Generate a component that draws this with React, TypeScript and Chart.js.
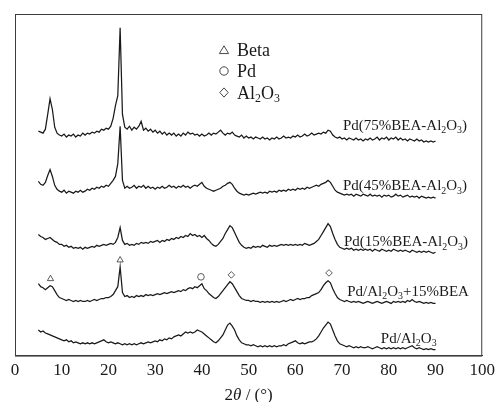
import React, { useEffect, useRef } from 'react';
import { Chart, registerables } from 'chart.js';

Chart.register(...registerables);

// 2θ values (degrees)
const angles = [
  5, 5.5, 6, 6.5, 7, 7.5, 8, 8.5, 9, 9.5,
  10, 10.5, 11, 11.5, 12, 12.5, 13, 13.5, 14, 14.5,
  15, 15.5, 16, 16.5, 17, 17.5, 18, 18.5, 19, 19.5,
  20, 20.5, 21, 21.5, 22, 22.5, 23, 23.5, 24, 24.5,
  25, 25.5, 26, 26.5, 27, 27.5, 28, 28.5, 29, 29.5,
  30, 30.5, 31, 31.5, 32, 32.5, 33, 33.5, 34, 34.5,
  35, 35.5, 36, 36.5, 37, 37.5, 38, 38.5, 39, 39.5,
  40, 40.5, 41, 41.5, 42, 42.5, 43, 43.5, 44, 44.5,
  45, 45.5, 46, 46.5, 47, 47.5, 48, 48.5, 49, 49.5,
  50, 50.5, 51, 51.5, 52, 52.5, 53, 53.5, 54, 54.5,
  55, 55.5, 56, 56.5, 57, 57.5, 58, 58.5, 59, 59.5,
  60, 60.5, 61, 61.5, 62, 62.5, 63, 63.5, 64, 64.5,
  65, 65.5, 66, 66.5, 67, 67.5, 68, 68.5, 69, 69.5,
  70, 70.5, 71, 71.5, 72, 72.5, 73, 73.5, 74, 74.5,
  75, 75.5, 76, 76.5, 77, 77.5, 78, 78.5, 79, 79.5,
  80, 80.5, 81, 81.5, 82, 82.5, 83, 83.5, 84, 84.5,
  85, 85.5, 86, 86.5, 87, 87.5, 88, 88.5, 89, 89.5,
  90,
];

// intensities (stacked, arbitrary units)
const pd75BEA = [
  228, 227, 226, 230, 245, 261, 250, 232, 226, 224,
  223, 225, 222, 224, 223, 225, 222, 224, 223, 226,
  224, 226, 225, 227, 226, 228, 227, 230, 229, 231,
  230, 233, 241, 254, 264, 333, 245, 232, 230, 233,
  229, 232, 230, 233, 238, 229, 231, 228, 230, 227,
  229, 226, 228, 225, 227, 224, 226, 224, 226, 223,
  225, 223, 226, 224, 227, 225, 226, 224, 225, 223,
  225, 223, 224, 226, 224, 226, 225, 227, 229, 226,
  224, 226, 225, 227, 224, 223, 222, 224, 221, 223,
  221, 222, 220, 222, 221, 220, 222, 220, 221, 219,
  221, 220, 222, 220, 221, 223, 221, 222, 221, 223,
  222, 224, 222, 223, 225, 223, 224, 226, 224, 225,
  226, 225, 227, 226, 229, 228, 224, 222, 221, 222,
  220, 221, 219, 221, 220, 219, 221, 219, 220, 218,
  220, 219, 221, 219, 220, 222, 219, 221, 220, 222,
  219, 221, 220, 222, 219, 221, 219, 220, 218, 220,
  219, 218, 220, 218, 219, 217, 218, 217, 218, 217,
  218,
];

const pd45BEA = [
  177, 174, 173, 176, 183, 189, 182, 173, 169, 167,
  166, 168, 165, 167, 166, 165, 167, 166, 168, 166,
  167, 169, 168, 170, 169, 171, 170, 172, 171, 173,
  172, 175, 178, 182, 195, 233, 178, 170, 172, 170,
  171, 173, 170, 172, 171, 173, 170, 172, 170, 171,
  169, 171, 170, 172, 170, 171, 173, 171, 172, 170,
  172, 171, 173, 171, 172, 170, 172, 173, 172, 174,
  176, 172, 170, 169, 168, 167, 168, 169, 170, 172,
  173, 175, 176, 174, 170, 167, 165, 164, 163, 164,
  163, 164, 165, 164, 165, 166, 165, 166, 165, 167,
  166, 167, 166, 168, 167, 168, 167, 169, 168, 169,
  168, 170, 169, 170, 169, 171, 170, 171, 172, 173,
  172, 174, 175, 176, 178, 176, 172, 168, 166, 165,
  164, 163, 164, 163, 164, 162, 164, 163, 162, 164,
  163, 162, 164, 162, 163, 162, 163, 161, 163, 162,
  163, 161, 162, 164, 162, 163, 161, 162, 163, 161,
  162, 161, 162, 160, 162, 161, 160, 161, 160, 161,
  160,
];

const pd15BEA = [
  123, 121, 120, 118, 119, 120, 118, 116, 115, 113,
  113, 111, 112, 110, 111, 109, 110, 109, 110, 108,
  110, 109, 110, 111, 110, 112, 111, 112, 113, 112,
  113, 114, 113, 115, 120, 130, 117, 113, 114, 112,
  113, 112, 114, 113, 115, 114, 115, 114, 116, 115,
  116, 117, 115, 117, 116, 118, 117, 119, 118, 120,
  119, 121, 120, 122, 121, 124, 122, 123, 121, 122,
  120, 122, 119, 117, 114, 112, 111, 113, 116, 119,
  124, 128, 132, 130, 125, 120, 115, 112, 110, 109,
  110, 109, 111, 110, 111, 110, 112, 111, 110, 112,
  111, 112, 111, 112, 113, 112, 113, 112, 113, 112,
  113, 112, 113, 112, 114, 113, 112, 113, 114, 116,
  118, 122, 126, 130, 134, 131, 124, 118, 113, 110,
  109, 108, 109, 108, 109, 107, 108, 107, 108, 107,
  108, 107, 108, 106, 108, 107, 106, 108, 107, 106,
  107, 106, 108, 107, 106, 107, 106, 107, 106, 105,
  107, 106, 105, 106, 105, 106, 105, 106, 105, 104,
  105,
];

const pdAlBEA = [
  73, 70, 69, 67, 69, 71, 70, 66, 62, 59,
  58, 57, 56, 57, 56, 55, 56, 55, 56, 55,
  55, 56, 55, 56, 57, 56, 57, 58, 58, 59,
  59, 60, 62, 66, 70, 90, 64, 60, 61, 59,
  60, 59, 61, 60, 61, 60, 62, 61, 62, 61,
  62, 63, 62, 63, 64, 63, 64, 65, 64, 65,
  66, 65, 67, 66, 68, 69, 68, 70, 69, 71,
  73, 68, 66, 63, 61, 59, 58, 60, 63, 66,
  69, 72, 75, 73, 69, 65, 61, 58, 57, 56,
  56, 55, 56, 55, 55, 54, 55, 54, 55, 54,
  55, 54, 55, 54, 55, 56, 55, 56, 57, 56,
  57, 58, 57, 58, 58, 59, 59, 61, 62, 63,
  64, 67, 71, 74, 76, 74, 68, 63, 59, 57,
  56, 55, 56, 55, 54, 55, 54, 55, 54, 53,
  54, 55, 54, 53, 54, 55, 54, 53, 54, 55,
  54, 53, 55, 54, 55, 54, 55, 54, 56, 55,
  57, 55, 54, 55, 54, 53, 54, 53, 54, 53,
  53,
];

const pdAl = [
  26, 24, 25, 23, 22, 21, 20, 19, 18, 17,
  16, 15, 16, 14, 15, 13, 14, 13, 12, 13,
  12, 13, 12, 13, 12, 13, 14, 15, 16, 14,
  13, 14, 13, 12, 13, 12, 11, 12, 11, 12,
  11, 12, 11, 12, 13, 12, 13, 14, 13, 14,
  15, 14, 16, 15, 17, 16, 18, 17, 19, 20,
  21, 20, 22, 24, 23, 24, 23, 24, 26, 25,
  24, 22, 20, 18, 16, 14, 13, 15, 18, 21,
  26, 31, 33, 30, 26, 20, 16, 13, 12, 11,
  11, 10, 11, 10, 9, 10, 9, 10, 9, 10,
  9, 10, 9, 10, 10, 11, 10, 12, 13, 14,
  15, 13, 12, 13, 12, 13, 14, 14, 15, 17,
  20, 24, 28, 31, 34, 32, 26, 20, 15, 12,
  11, 10, 9, 10, 9, 8, 9, 8, 9, 8,
  8, 9, 8, 7, 8, 9, 8, 7, 8, 7,
  8, 7, 8, 7, 8, 7, 8, 7, 8, 9,
  10, 8, 7, 8, 7, 6, 7, 6, 7, 6,
  6,
];

const seriesNames = [
  'Pd(75%BEA-Al_2O_3)',
  'Pd(45%BEA-Al_2O_3)',
  'Pd(15%BEA-Al_2O_3)',
  'Pd/Al_2O_3+15%BEA',
  'Pd/Al_2O_3',
];
const seriesValues = [pd75BEA, pd45BEA, pd15BEA, pdAlBEA, pdAl];

// phase marks above the Pd/Al2O3+15%BEA pattern
const markAngles = [7.6, 22.5, 39.8, 46.3, 67.2];
const markHeights = [78, 97, 80, 82, 84];
const markPhases = ['Beta', 'Beta', 'Pd', 'Al_2O_3', 'Al_2O_3'];

const legendPhases = ['Beta', 'Pd', 'Al_2O_3'];
const xTitle = ['2', 'θ', ' / (°)'];

// ---------- drawing ----------
const FONT = '"Liberation Serif", "Times New Roman", serif';
const INK = '#1a1a1a';
const phaseStyle: Record<string, string> = { Beta: 'triangle', Pd: 'circle', Al_2O_3: 'rectRot' };

// label anchors (left edge angle, baseline intensity)
const labelAnchors = [
  [70.2, 229],
  [70.2, 168],
  [70.4, 111],
  [71.1, 61],
  [78.3, 13],
];

function drawRich(ctx: CanvasRenderingContext2D, text: string, x: number, y: number, size: number) {
  const parts = text.split(/_(\d)/);
  let cx = x;
  parts.forEach((p, i) => {
    if (!p) return;
    const sub = i % 2 === 1;
    const fs = sub ? size * 0.66 : size;
    ctx.font = `${fs}px ${FONT}`;
    ctx.fillText(p, cx, sub ? y + size * 0.22 : y);
    cx += ctx.measureText(p).width;
  });
}

function drawSymbol(ctx: CanvasRenderingContext2D, kind: string, x: number, y: number, r: number) {
  ctx.beginPath();
  if (kind === 'triangle') {
    ctx.moveTo(x, y - r);
    ctx.lineTo(x + r * 1.1, y + r * 0.85);
    ctx.lineTo(x - r * 1.1, y + r * 0.85);
    ctx.closePath();
  } else if (kind === 'circle') {
    ctx.arc(x, y, r, 0, Math.PI * 2);
  } else {
    ctx.moveTo(x, y - r * 1.1);
    ctx.lineTo(x + r, y);
    ctx.lineTo(x, y + r * 1.1);
    ctx.lineTo(x - r, y);
    ctx.closePath();
  }
  ctx.stroke();
}

const overlay = {
  id: 'overlay',
  afterDatasetsDraw(chart: any) {
    const { ctx, chartArea: a, scales } = chart;
    const xs = scales.x;
    const ys = scales.y;
    ctx.save();
    // frame
    ctx.strokeStyle = '#3c3c3c';
    ctx.lineWidth = 1;
    ctx.strokeRect(a.left + 0.5, a.top + 0.5, a.right - a.left - 1, a.bottom - a.top);

    // series labels
    ctx.fillStyle = INK;
    ctx.textBaseline = 'alphabetic';
    ctx.textAlign = 'left';
    seriesNames.forEach((n, i) => {
      drawRich(ctx, n, xs.getPixelForValue(labelAnchors[i][0]), ys.getPixelForValue(labelAnchors[i][1]), 15);
    });

    // legend
    const lx = 224;
    const rows = [56, 77, 98.5];
    ctx.strokeStyle = '#333';
    ctx.lineWidth = 0.9;
    legendPhases.forEach((p, i) => {
      drawSymbol(ctx, phaseStyle[p], lx, rows[i] - 6, 4.2);
      ctx.fillStyle = INK;
      drawRich(ctx, p, lx + 13, rows[i], 18);
    });

    // x-axis title
    const size = 17;
    const fonts = [`${size}px ${FONT}`, `italic ${size}px ${FONT}`, `${size}px ${FONT}`];
    let w = 0;
    xTitle.forEach((t, i) => {
      ctx.font = fonts[i];
      w += ctx.measureText(t).width;
    });
    let cx = (a.left + a.right) / 2 - w / 2;
    xTitle.forEach((t, i) => {
      ctx.font = fonts[i];
      ctx.fillText(t, cx, 399.5);
      cx += ctx.measureText(t).width;
    });
    ctx.restore();
  },
};

export default function App() {
  const ref = useRef<HTMLCanvasElement | null>(null);
  useEffect(() => {
    document.body.style.margin = '0';
    const canvas = ref.current;
    if (!canvas) return;
    const lineSets = seriesValues.map((vals, i) => ({
      type: 'line' as const,
      label: seriesNames[i],
      data: angles.map((a, j) => ({ x: a, y: vals[j] })),
      borderColor: INK,
      borderWidth: 1.25,
      pointRadius: 0,
      tension: 0,
      fill: false,
    }));
    const markSet = {
      type: 'scatter' as const,
      label: 'marks',
      data: markAngles.map((a, j) => ({ x: a, y: markHeights[j] })),
      pointStyle: markPhases.map((p) => phaseStyle[p]),
      pointRadius: markPhases.map((p) => (p === 'Beta' ? 3.6 : 3.3)),
      backgroundColor: '#ffffff',
      borderColor: '#333',
      borderWidth: 0.8,
      showLine: false,
    };
    const chart = new Chart(canvas, {
      type: 'line',
      data: { datasets: [...lineSets, markSet] as any },
      options: {
        animation: false,
        responsive: false,
        devicePixelRatio: 1,
        layout: { padding: { left: 15, right: 15, top: 14, bottom: 16 } },
        plugins: { legend: { display: false }, tooltip: { enabled: false } },
        scales: {
          x: {
            type: 'linear',
            min: 0,
            max: 100,
            grid: { display: false, drawTicks: false },
            border: { display: true, color: '#3c3c3c', width: 1 },
            ticks: {
              stepSize: 10,
              color: INK,
              padding: 5,
              maxRotation: 0,
              font: { family: FONT, size: 17 },
            },
          },
          y: { display: false, min: 0, max: 347 },
        },
      },
      plugins: [overlay],
    });
    return () => chart.destroy();
  }, []);
  return (
    <div style={{ width: 500, height: 402 }}>
      <canvas ref={ref} width={500} height={402} style={{ display: 'block' }} />
    </div>
  );
}
